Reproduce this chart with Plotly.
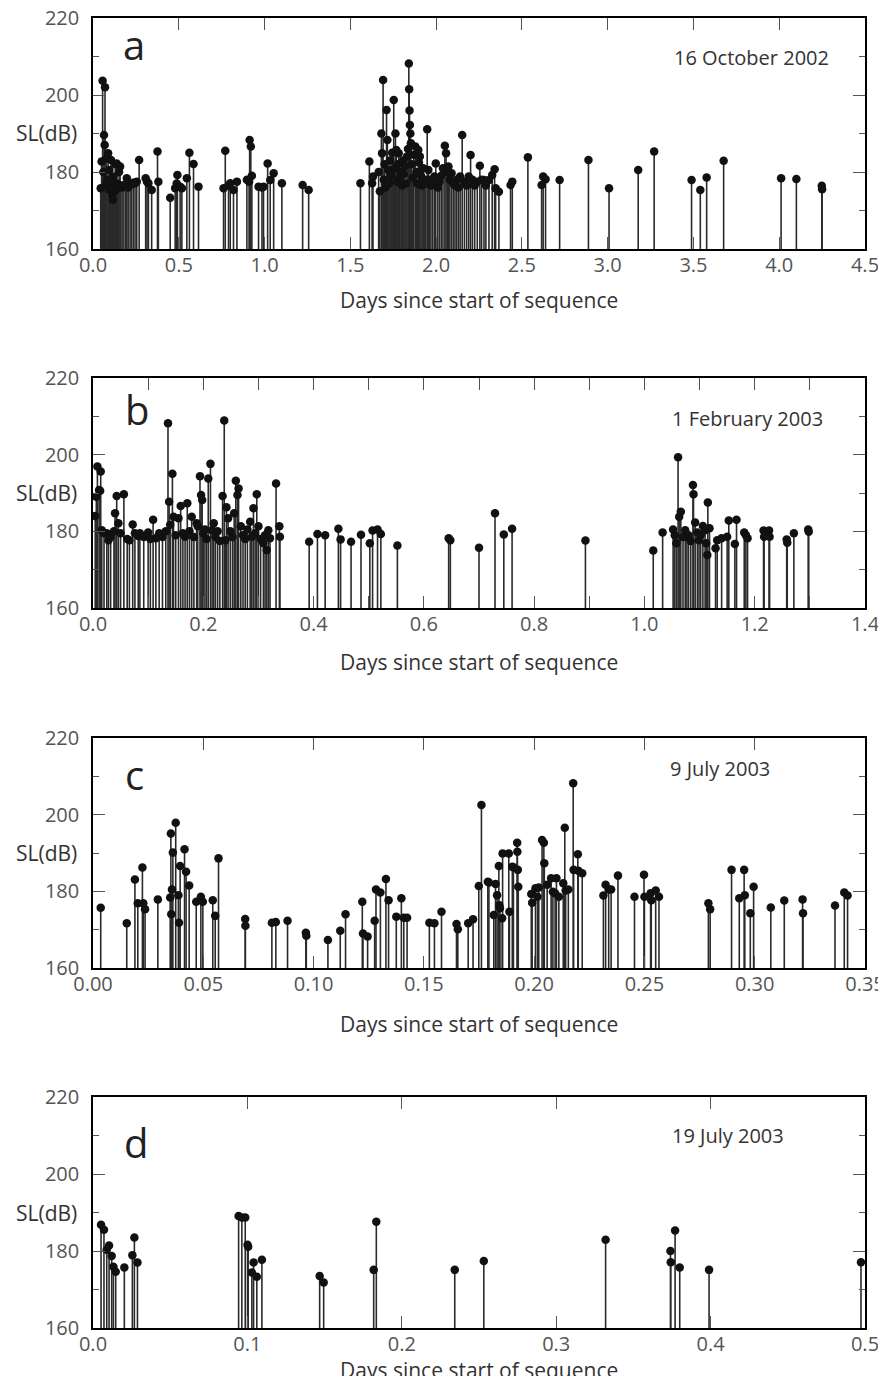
import plotly.graph_objects as go

# ---------------- data ----------------
# Panel a: 16 October 2002
a_days = [0.045, 0.050, 0.056, 0.060, 0.064, 0.068, 0.070, 0.074, 0.078, 0.082, 0.088, 0.092,
          0.096, 0.100, 0.105, 0.109, 0.112, 0.116, 0.120, 0.125, 0.130, 0.134, 0.138, 0.142,
          0.148, 0.152, 0.158, 0.162, 0.170, 0.180, 0.190, 0.197, 0.205, 0.216, 0.225, 0.235,
          0.245, 0.255, 0.269, 0.307, 0.315, 0.323, 0.342, 0.376, 0.381,
          0.450, 0.479, 0.488, 0.492, 0.508, 0.518, 0.547, 0.562, 0.586, 0.615,
          0.761, 0.771, 0.790, 0.800, 0.819, 0.839, 0.897, 0.910, 0.913, 0.920, 0.926, 0.965,
          0.985, 0.994, 1.018, 1.033, 1.053, 1.101, 1.222, 1.257, 1.559, 1.611, 1.627, 1.632,
          1.665, 1.672, 1.681, 1.685, 1.691, 1.695, 1.700, 1.705, 1.711, 1.716, 1.720, 1.726,
          1.732, 1.738, 1.744, 1.753, 1.758, 1.763, 1.768, 1.772, 1.778, 1.782, 1.788, 1.795,
          1.800, 1.806, 1.812, 1.818, 1.824, 1.830, 1.836, 1.841, 1.843, 1.845, 1.847, 1.850,
          1.853, 1.858, 1.864, 1.870, 1.879, 1.885, 1.890, 1.896, 1.900, 1.905, 1.912, 1.918,
          1.925, 1.932, 1.940, 1.948, 1.955, 1.962, 1.970, 1.980, 1.990, 1.998, 2.010, 2.020,
          2.030, 2.040, 2.051, 2.058, 2.065, 2.072, 2.080, 2.090, 2.100, 2.110, 2.120, 2.130,
          2.140, 2.152, 2.165, 2.178, 2.190, 2.201, 2.212, 2.225, 2.240, 2.255, 2.265, 2.279,
          2.290, 2.308, 2.327, 2.341, 2.347, 2.366, 2.434, 2.444, 2.535, 2.615, 2.624, 2.638,
          2.720, 2.888, 3.008, 3.178, 3.271, 3.489, 3.540, 3.577, 3.676, 4.011, 4.100, 4.248,
          4.250]
a_sl = [175.8, 182.7, 203.7, 180.0, 189.6, 187.0, 202.0, 176.5, 183.5, 178.0, 184.9, 175.5,
        180.5, 177.0, 183.1, 176.0, 174.0, 172.7, 178.8, 176.2, 182.0, 175.3, 182.2, 177.0,
        176.0, 180.0, 181.4, 176.5, 176.0, 176.5, 176.8, 178.4, 176.0, 176.6, 176.8, 177.2,
        177.1, 177.5, 183.1, 178.4, 177.5, 177.1, 175.3, 185.3, 177.5,
        173.3, 175.8, 177.0, 179.2, 176.2, 175.8, 178.4, 185.0, 182.1, 176.2,
        175.8, 185.5, 176.5, 177.1, 175.3, 177.5, 178.0, 177.5, 188.3, 186.6, 179.0, 176.2,
        176.0, 176.2, 182.2, 177.9, 179.7, 177.1, 176.6, 175.3, 177.1, 182.7, 177.1, 178.8,
        180.0, 175.0, 190.0, 184.9, 203.9, 178.0, 182.0, 176.0, 196.1, 188.3, 180.5, 177.0,
        183.0, 179.0, 185.0, 198.7, 181.0, 190.0, 185.7, 177.5, 182.0, 184.9, 178.5, 180.0,
        176.5, 183.0, 179.5, 181.5, 177.0, 184.0, 186.0, 208.2, 201.5, 196.0, 192.2, 190.0,
        187.5, 182.0, 178.5, 184.5, 186.6, 180.0, 177.0, 185.7, 182.5, 184.0, 179.0, 176.5,
        181.0, 178.0, 177.0, 191.1, 180.5, 178.0, 176.5, 177.5, 178.8, 182.2, 176.0, 177.5,
        179.0, 181.0, 186.8, 184.9, 180.0, 181.4, 178.0, 179.7, 177.0, 176.5, 178.0, 176.0,
        178.8, 189.6, 177.5, 176.5, 178.8, 184.4, 178.0, 176.5, 177.5, 181.6, 178.0, 177.9,
        176.5, 177.9, 179.2, 180.7, 175.8, 174.9, 176.6, 177.5, 183.8, 176.6, 178.8, 178.1,
        177.9, 183.1, 175.8, 180.5, 185.3, 177.9, 175.3, 178.6, 182.9, 178.4, 178.2, 176.4,
        175.5]

# Panel b: 1 February 2003
b_days = [0.004, 0.006, 0.008, 0.011, 0.013, 0.014, 0.016, 0.020, 0.025, 0.028, 0.032, 0.038,
          0.040, 0.043, 0.046, 0.050, 0.056, 0.062, 0.066, 0.072, 0.076, 0.082, 0.085, 0.092,
          0.100, 0.104, 0.109, 0.114, 0.120, 0.126, 0.132, 0.136, 0.138, 0.140, 0.144, 0.146,
          0.150, 0.155, 0.159, 0.163, 0.167, 0.171, 0.175, 0.179, 0.183, 0.188, 0.190, 0.194,
          0.196, 0.198, 0.200, 0.203, 0.206, 0.209, 0.213, 0.216, 0.219, 0.222, 0.226, 0.230,
          0.235, 0.238, 0.240, 0.242, 0.245, 0.249, 0.253, 0.256, 0.259, 0.262, 0.264, 0.268,
          0.272, 0.276, 0.280, 0.285, 0.288, 0.291, 0.294, 0.297, 0.300, 0.304, 0.309, 0.312,
          0.315, 0.318, 0.321, 0.332, 0.338, 0.339, 0.392, 0.407, 0.421, 0.445, 0.449, 0.468,
          0.486, 0.502, 0.507, 0.516, 0.522, 0.552, 0.645, 0.648, 0.700, 0.729, 0.745, 0.760,
          0.893, 1.016, 1.033, 1.052, 1.055, 1.058, 1.061, 1.063, 1.066, 1.070, 1.074, 1.077,
          1.080, 1.084, 1.088, 1.089, 1.092, 1.096, 1.099, 1.102, 1.106, 1.110, 1.112, 1.114,
          1.115, 1.118, 1.129, 1.132, 1.140, 1.150, 1.153, 1.164, 1.167, 1.181, 1.184, 1.187,
          1.216, 1.217, 1.226, 1.227, 1.258, 1.259, 1.271, 1.297, 1.298]
b_sl = [184.0, 189.0, 196.9, 190.8, 190.6, 195.6, 180.3, 179.5, 179.5, 177.7, 178.5, 180.0,
        184.7, 189.2, 182.1, 179.5, 189.7, 178.0, 177.7, 181.8, 179.5, 178.8, 179.5, 178.5,
        179.7, 178.0, 183.0, 178.2, 179.5, 178.5, 180.0, 208.2, 187.7, 181.7, 195.0, 183.8,
        179.0, 183.4, 186.6, 179.5, 178.6, 187.3, 180.0, 183.8, 178.5, 182.1, 181.3, 194.4,
        189.5, 188.2, 179.5, 180.5, 178.0, 193.8, 197.6, 180.3, 182.1, 178.5, 180.0, 177.5,
        189.2, 208.9, 177.7, 186.3, 183.4, 180.0, 178.5, 184.7, 193.2, 189.5, 191.2, 181.3,
        179.0, 178.0, 180.5, 182.5, 178.6, 186.0, 179.5, 189.7, 181.3, 178.0, 176.9, 179.0,
        175.1, 180.3, 178.2, 192.5, 181.3, 178.6, 177.3, 179.3, 179.0, 180.7, 177.9, 177.3,
        179.1, 176.9, 180.2, 180.5, 179.3, 176.3, 178.2, 177.7, 175.7, 184.7, 179.2, 180.7,
        177.6, 175.0, 179.7, 180.5, 179.0, 176.9, 199.3, 183.8, 185.1, 178.5, 180.3, 178.6,
        179.0, 177.5, 192.1, 189.7, 182.3, 179.7, 177.7, 179.0, 181.4, 180.3, 176.9, 173.8,
        187.5, 180.8, 175.6, 177.7, 178.2, 178.6, 182.8, 176.7, 183.0, 179.7, 179.0, 178.2,
        180.2, 178.6, 180.2, 178.6, 177.9, 177.0, 179.5, 180.5, 179.9]

# Panel c: 9 July 2003
c_days = [0.0035, 0.0153, 0.0190, 0.0203, 0.0224, 0.0228, 0.0236, 0.0294, 0.0350, 0.0353,
          0.0355, 0.0358, 0.0362, 0.0375, 0.0387, 0.0390, 0.0395, 0.0415, 0.0422, 0.0436,
          0.0468, 0.0489, 0.0498, 0.0543, 0.0554, 0.0569, 0.0690, 0.0691, 0.0811, 0.0829,
          0.0882, 0.0965, 0.0967, 0.1065, 0.1121, 0.1145, 0.1221, 0.1224, 0.1245, 0.1277,
          0.1283, 0.1303, 0.1328, 0.1340, 0.1375, 0.1398, 0.1409, 0.1424, 0.1525, 0.1548,
          0.1580, 0.1648, 0.1654, 0.1701, 0.1723, 0.1749, 0.1761, 0.1790, 0.1795, 0.1817,
          0.1825, 0.1832, 0.1840, 0.1842, 0.1845, 0.1855, 0.1857, 0.1885, 0.1888, 0.1901,
          0.1906, 0.1923, 0.1924, 0.1926, 0.1928, 0.1987, 0.1991, 0.2006, 0.2015, 0.2021,
          0.2036, 0.2044, 0.2046, 0.2059, 0.2077, 0.2085, 0.2095, 0.2101, 0.2112, 0.2132,
          0.2139, 0.2143, 0.2155, 0.2177, 0.2179, 0.2198, 0.2200, 0.2218, 0.2314, 0.2324,
          0.2338, 0.2349, 0.2380, 0.2455, 0.2498, 0.2500, 0.2528, 0.2531, 0.2551, 0.2566,
          0.2790, 0.2798, 0.2895, 0.2930, 0.2952, 0.2955, 0.2980, 0.2995, 0.3073, 0.3134,
          0.3217, 0.3219, 0.3364, 0.3406, 0.3421]
c_sl = [175.7, 171.7, 183.1, 176.9, 186.2, 176.9, 175.3, 177.9, 178.4, 195.1,
        174.0, 180.5, 190.1, 197.9, 179.0, 171.8, 186.6, 191.0, 185.1, 181.5,
        177.3, 178.6, 177.3, 177.7, 173.6, 188.6, 172.8, 171.0, 171.8, 172.0,
        172.3, 169.2, 168.4, 167.3, 169.7, 174.0, 177.3, 169.0, 168.2, 172.3,
        180.5, 179.7, 183.2, 177.7, 173.4, 178.2, 173.1, 173.1, 171.8, 171.7,
        174.7, 171.5, 170.1, 171.7, 172.7, 181.4, 202.5, 182.5, 182.3, 173.8,
        181.9, 179.0, 186.6, 176.4, 175.6, 173.0, 189.9, 189.9, 174.7, 186.4,
        186.3, 192.7, 190.3, 185.6, 181.2, 179.3, 177.0, 180.8, 178.6, 181.0,
        193.4, 192.7, 187.3, 181.7, 183.4, 179.9, 179.5, 183.4, 178.6, 182.1,
        196.6, 180.2, 180.5, 208.2, 185.6, 189.7, 185.4, 184.7, 178.9, 181.7,
        180.5, 180.5, 184.1, 178.6, 184.3, 178.6, 179.5, 177.7, 180.2, 178.6,
        176.9, 175.3, 185.6, 178.2, 185.6, 179.0, 174.3, 181.2, 175.8, 177.6,
        177.9, 174.3, 176.3, 179.7, 178.9]

# Panel d: 19 July 2003
d_days = [0.0052, 0.0071, 0.0089, 0.0104, 0.0121, 0.0132, 0.0147, 0.0203, 0.0255, 0.0268,
          0.0288, 0.0943, 0.0964, 0.0986, 0.1001, 0.1005, 0.1029, 0.1040, 0.1061, 0.1094,
          0.1468, 0.1494, 0.1818, 0.1835, 0.2343, 0.2531, 0.3320, 0.3740, 0.3742, 0.3770,
          0.3800, 0.3990, 0.4974]
d_sl = [186.8, 185.5, 180.3, 181.4, 178.7, 175.9, 174.6, 175.7, 178.9, 183.5,
        177.0, 189.1, 188.7, 188.7, 181.6, 181.1, 174.4, 177.0, 173.3, 177.7,
        173.5, 171.8, 175.1, 187.6, 175.1, 177.4, 182.9, 180.0, 177.1, 185.3,
        175.7, 175.1, 177.1]

panel_letters = ["a", "b", "c", "d"]
panel_dates = ["16 October 2002", "1 February 2003", "9 July 2003", "19 July 2003"]
x_ranges = [[0, 4.5], [0, 1.4], [0, 0.35], [0, 0.5]]
x_dticks = [0.5, 0.2, 0.05, 0.1]
x_minor = [None, 0.1, None, None]
x_formats = [".1f", ".1f", ".2f", ".1f"]
y_range = [160, 220]
BASE = 160

# ---------------- figure ----------------
# The page body has an 8px margin, so the figure is 870x1368 and every
# reference pixel position is shifted by OFF.
OFF = 8
W, H = 870, 1368
X0, X1 = 93, 865
panel_px = [(18, 249), (378, 608), (738, 968), (1097, 1328)]   # top, bottom (reference px)
date_pos = [(751, 57), (747, 418), (720, 768), (728, 1135)]
letter_pos = [(134, 45), (137, 409), (134, 774), (136, 1142)]
xtitle_y = [300, 662, 1024, 1370]


def fx(px):
    return (px - OFF) / W


def fy(py):
    return 1 - (py - OFF) / H


fig = go.Figure()
datasets = [(a_days, a_sl), (b_days, b_sl), (c_days, c_sl), (d_days, d_sl)]

for i, (xs, ys) in enumerate(datasets):
    sx = "" if i == 0 else str(i + 1)
    stem_x, stem_y = [], []
    for xv, yv in zip(xs, ys):
        stem_x += [xv, xv, None]
        stem_y += [BASE, yv, None]
    fig.add_trace(go.Scatter(x=stem_x, y=stem_y, mode="lines",
                             line=dict(color="#2a2a2a", width=1.6),
                             xaxis="x" + sx, yaxis="y" + sx, showlegend=False,
                             hoverinfo="skip"))
    fig.add_trace(go.Scatter(x=xs, y=ys, mode="markers",
                             marker=dict(color="#111111", size=8.5),
                             xaxis="x" + sx, yaxis="y" + sx, showlegend=False))

font_family = "Open Sans, Noto Sans, sans-serif"
layout = dict(width=W, height=H, autosize=False,
              margin=dict(l=0, r=0, t=0, b=0, pad=0),
              paper_bgcolor="white", plot_bgcolor="white",
              font=dict(family=font_family, color="#333"))
annotations = []
for i in range(4):
    sx = "" if i == 0 else str(i + 1)
    top, bot = panel_px[i]
    xa = dict(domain=[fx(X0), fx(X1)], range=x_ranges[i], anchor="y" + sx,
              automargin=False, ticklabeloverflow="allow",
              dtick=x_dticks[i], tick0=0, tickformat=x_formats[i],
              ticks="inside", ticklen=12, tickwidth=1.2, tickcolor="#555",
              mirror="allticks", showline=True, linecolor="black", linewidth=1.6,
              showgrid=False, zeroline=False,
              tickfont=dict(size=20, color="#555"), ticklabelstandoff=-3)
    if x_minor[i]:
        xa["minor"] = dict(dtick=x_minor[i], ticks="inside", ticklen=12,
                           tickcolor="#555", tickwidth=1.2)
    ya = dict(domain=[fy(bot), fy(top)], range=y_range, anchor="x" + sx,
              automargin=False, ticklabeloverflow="allow",
              dtick=20, tick0=160, ticks="inside", ticklen=12, tickwidth=1.2,
              tickcolor="#555", mirror="allticks", showline=True, linecolor="black",
              linewidth=1.6, showgrid=False, zeroline=False,
              minor=dict(dtick=10, ticks="inside", ticklen=6, tickcolor="#555", tickwidth=1.2),
              tickfont=dict(size=20, color="#555"), ticklabelstandoff=8)
    layout["xaxis" + sx] = xa
    layout["yaxis" + sx] = ya

    annotations.append(dict(text=panel_letters[i], xref="paper", yref="paper",
                            x=fx(letter_pos[i][0]), y=fy(letter_pos[i][1]),
                            xanchor="center", yanchor="middle", showarrow=False,
                            font=dict(size=40, color="#222")))
    annotations.append(dict(text=panel_dates[i], xref="paper", yref="paper",
                            x=fx(date_pos[i][0]), y=fy(date_pos[i][1]),
                            xanchor="center", yanchor="middle", showarrow=False,
                            font=dict(size=20, color="#333")))
    annotations.append(dict(text="SL(dB)", xref="paper", yref="y" + sx,
                            x=fx(46), y=190, xanchor="center", yanchor="middle",
                            showarrow=False, font=dict(size=21, color="#333")))
    annotations.append(dict(text="Days since start of sequence", xref="paper", yref="paper",
                            x=fx((X0 + X1) / 2), y=fy(xtitle_y[i]),
                            xanchor="center", yanchor="middle", showarrow=False,
                            font=dict(size=21, color="#333")))

layout["annotations"] = annotations
fig.update_layout(**layout)
fig.write_html("out.html")
